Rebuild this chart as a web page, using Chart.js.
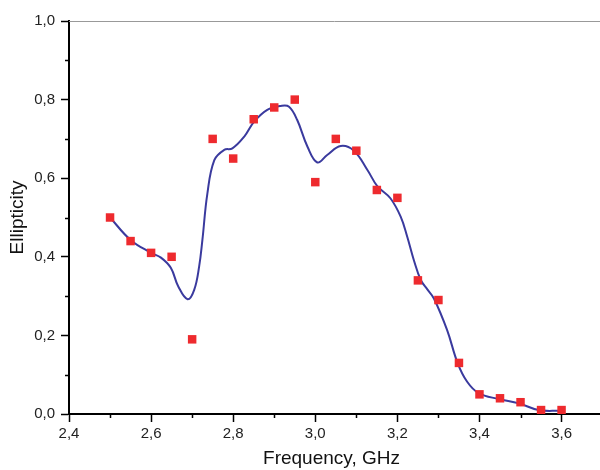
<!DOCTYPE html>
<html>
<head>
<meta charset="utf-8">
<script src="https://cdn.jsdelivr.net/npm/chart.js@4.4.0/dist/chart.umd.min.js"></script>
<style>
  html, body { margin: 0; padding: 0; background: #fff; overflow: hidden; }
  #wrap { width: 600px; height: 470px; }
</style>
</head>
<body>
<div id="wrap"><canvas id="myChart" width="600" height="470"></canvas></div>
<script>
// measured points (red squares)
const freq = [2.50, 2.55, 2.60, 2.65, 2.70, 2.75, 2.80, 2.85, 2.90, 2.95, 3.00, 3.05,
              3.10, 3.15, 3.20, 3.25, 3.30, 3.35, 3.40, 3.45, 3.50, 3.55, 3.60];
const ellipticity = [0.50, 0.44, 0.41, 0.40, 0.19, 0.70, 0.65, 0.75, 0.78, 0.80, 0.59, 0.70,
                     0.67, 0.57, 0.55, 0.34, 0.29, 0.13, 0.05, 0.04, 0.03, 0.01, 0.01];

// smoothed curve
const curveFreq = [2.50, 2.55, 2.60, 2.624, 2.648, 2.666, 2.689, 2.705, 2.717, 2.725, 2.737,
                   2.754, 2.778, 2.798, 2.827, 2.851, 2.883, 2.916, 2.936, 2.956, 2.981,
                   3.005, 3.029, 3.062, 3.094, 3.127, 3.151, 3.183, 3.208, 3.224, 3.240,
                   3.257, 3.273, 3.289, 3.321, 3.347, 3.370, 3.398, 3.447, 3.496, 3.544, 3.597];
const curveValue = [0.500, 0.443, 0.410, 0.398, 0.372, 0.325, 0.292, 0.316, 0.375, 0.443, 0.560,
                    0.646, 0.672, 0.676, 0.706, 0.744, 0.774, 0.784, 0.782, 0.748, 0.680,
                    0.640, 0.659, 0.682, 0.670, 0.621, 0.580, 0.549, 0.502, 0.451, 0.392,
                    0.341, 0.317, 0.294, 0.214, 0.129, 0.082, 0.053, 0.038, 0.027, 0.010, 0.008];

// tick labels
const xTicks = [2.4, 2.6, 2.8, 3.0, 3.2, 3.4, 3.6];
const xMinor = [2.5, 2.7, 2.9, 3.1, 3.3, 3.5];
const yTicks = [0.0, 0.2, 0.4, 0.6, 0.8, 1.0];
const yMinor = [0.1, 0.3, 0.5, 0.7, 0.9];

const fmt = v => Number(v).toFixed(1).replace('.', ',');

// minor ticks + frame lines running off to the right edge (plot is cropped there)
const extras = {
  id: 'extras',
  afterDraw(chart) {
    const ctx = chart.ctx;
    const xs = chart.scales.x, ys = chart.scales.y;
    const a = chart.chartArea;
    ctx.save();
    ctx.strokeStyle = '#000';
    ctx.lineWidth = 1.5;
    ctx.beginPath();
    xMinor.forEach(v => {
      const px = Math.round(xs.getPixelForValue(v)) + 0.5;
      ctx.moveTo(px, a.bottom);
      ctx.lineTo(px, a.bottom + 4);
    });
    yMinor.forEach(v => {
      const py = Math.round(ys.getPixelForValue(v)) + 0.5;
      ctx.moveTo(a.left, py);
      ctx.lineTo(a.left - 4, py);
    });
    ctx.stroke();
    ctx.lineWidth = 2;
    ctx.beginPath();
    ctx.moveTo(a.right - 1, a.bottom);
    ctx.lineTo(chart.width, a.bottom);
    ctx.stroke();
    ctx.strokeStyle = '#999';
    ctx.lineWidth = 1;
    ctx.beginPath();
    ctx.moveTo(a.left, a.top + 0.5);
    ctx.lineTo(chart.width, a.top + 0.5);
    ctx.stroke();
    ctx.restore();
  }
};

new Chart(document.getElementById('myChart'), {
  type: 'scatter',
  data: {
    datasets: [
      {
        type: 'line',
        data: curveFreq.map((f, i) => ({ x: f, y: curveValue[i] })),
        borderColor: '#3a3a9e',
        borderWidth: 2,
        pointRadius: 0,
        fill: false,
        tension: 0.4,
        order: 2
      },
      {
        data: freq.map((f, i) => ({ x: f, y: ellipticity[i] })),
        pointStyle: 'rect',
        pointRadius: 6,
        backgroundColor: '#ee2a2e',
        borderColor: '#ee2a2e',
        borderWidth: 0,
        order: 1
      }
    ]
  },
  options: {
    responsive: false,
    animation: false,
    layout: { padding: { top: 21, right: 0, left: 0, bottom: 0 } },
    plugins: { legend: { display: false }, tooltip: { enabled: false } },
    scales: {
      x: {
        type: 'linear',
        min: 2.4,
        max: 3.679,
        afterBuildTicks: s => { s.ticks = xTicks.map(v => ({ value: v })); },
        afterFit: s => { s.height = 56; },
        ticks: {
          callback: fmt,
          color: '#222',
          font: { family: 'Liberation Sans, Arial', size: 15 },
          padding: 3,
          maxRotation: 0
        },
        grid: { drawOnChartArea: false, tickLength: 8, tickColor: '#000', tickWidth: 1.5 },
        border: { color: '#000', width: 2 },
        title: {
          display: true,
          text: 'Frequency, GHz',
          color: '#111',
          font: { family: 'Liberation Sans, Arial', size: 19 },
          padding: 0
        }
      },
      y: {
        min: 0,
        max: 1.0,
        afterBuildTicks: s => { s.ticks = yTicks.map(v => ({ value: v })); },
        afterFit: s => { s.width = 69; },
        ticks: {
          callback: fmt,
          color: '#222',
          font: { family: 'Liberation Sans, Arial', size: 15 },
          padding: 6
        },
        grid: { drawOnChartArea: false, tickLength: 8, tickColor: '#000', tickWidth: 1.5 },
        border: { color: '#000', width: 2 },
        title: {
          display: true,
          text: 'Ellipticity',
          color: '#111',
          font: { family: 'Liberation Sans, Arial', size: 19 },
          padding: 6
        }
      }
    }
  },
  plugins: [extras]
});
</script>
</body>
</html>
